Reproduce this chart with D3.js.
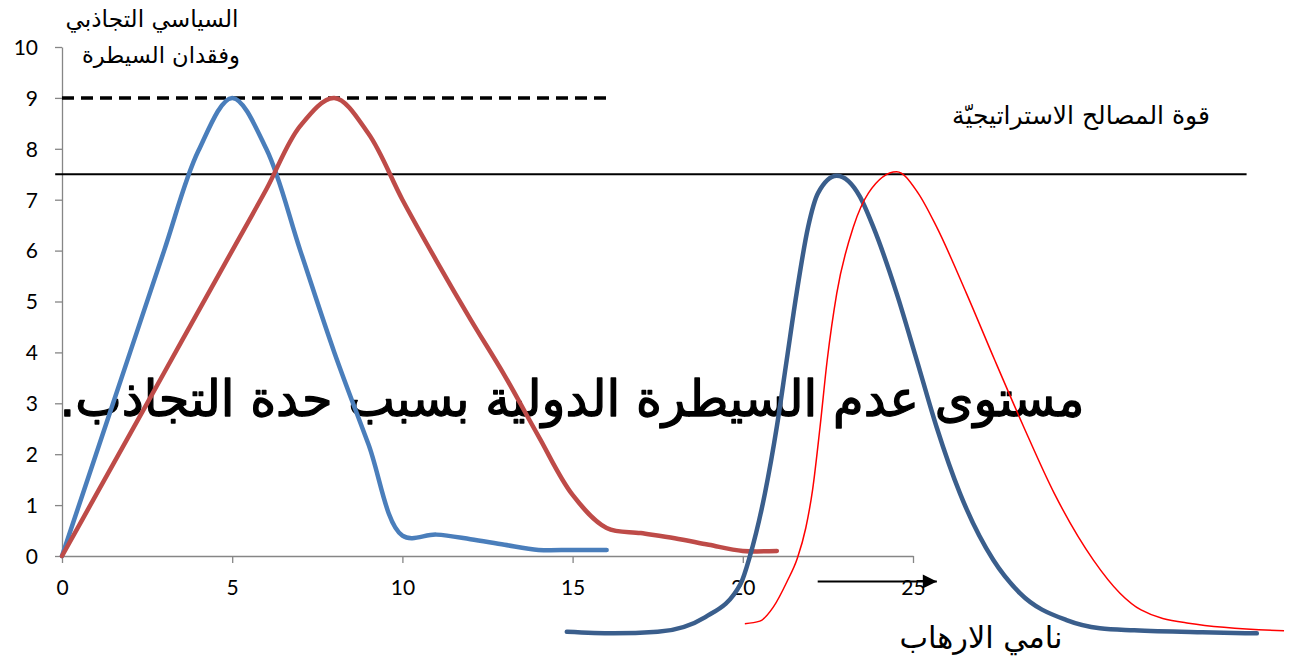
<!DOCTYPE html>
<html><head><meta charset="utf-8">
<script src="https://cdn.jsdelivr.net/npm/d3@7"></script>
<style>html,body{margin:0;padding:0;background:#fff;}svg{display:block;}</style>
</head><body><svg id="c" width="1294" height="666"></svg>
<script>
// ---- data ----
const xTicks = [0, 5, 10, 15, 20, 25];
const yTicks = [0, 1, 2, 3, 4, 5, 6, 7, 8, 9, 10];
const blueX = [0,1,2,3,4,5,6,7,8,9,10,11,12,13,14,15,16];
const blueY = [0,2,4,6,7.95,9,8,6,4,2.2,0.4,0.42,0.33,0.22,0.12,0.12,0.12];
const redX = [0,1,2,3,4,5,6,7,8,9,10,11,12,13,14,15,16,17,18,19,20,21];
const redY = [0,1.2,2.4,3.6,4.8,6,7.2,8.45,9,8.3,7.0,5.8,4.65,3.55,2.35,1.2,0.55,0.45,0.35,0.22,0.1,0.1];
const darkX = [14.83,16.2,17.5,18.9,19.94,20.21,20.65,21.0,21.29,21.58,21.92,22.21,22.76,23.44,23.83,24.52,25.11,25.69,26.38,27.36,28.14,29.51,30.49,31.5,33.5,35.1];
const darkY = [-1.49,-1.52,-1.49,-1.2,-0.54,0,1.23,2.54,3.85,5.16,6.47,7.13,7.47,7.06,6.47,5.16,3.85,2.54,1.23,-0.08,-0.73,-1.26,-1.42,-1.46,-1.5,-1.52];
const thinX = [20.06,20.5,20.9,21.3,21.6,21.85,22.05,22.27,22.48,22.76,23.25,23.69,24.52,25.15,25.69,26.57,27.4,28.25,29.15,30.3,31.08,31.7,33.1,35.9];
const thinY = [-1.33,-1.28,-1.0,-0.5,-0.05,0.55,1.3,2.54,3.85,5.16,6.47,7.13,7.55,7.13,6.47,5.16,3.85,2.54,1.23,-0.08,-0.73,-1.06,-1.32,-1.47];
const strategicLevel = 7.5, strategicFrom = -0.2, strategicTo = 34.8;
const dashLevel = 9, dashFrom = 0, dashTo = 16;
const arrowLevel = -0.5, arrowFrom = 22.2, arrowTo = 25.7;
const labelTop1 = "السياسي التجاذبي";
const labelTop2 = "وفقدان السيطرة";
const labelStrategic = "قوة المصالح الاستراتيجيّة";
const labelBig = "مستوى عدم السيطرة الدولية بسبب حدة التجاذب.";
const labelTerror = "نامي الارهاب";

// ---- drawing ----
const svg = d3.select("#c");
const x = d3.scaleLinear().domain([0, 25]).range([62, 913]);
const y = d3.scaleLinear().domain([0, 10]).range([556, 47]);
const axisColor = "#868686";
const numFont = "Lato, 'Open Sans', sans-serif";
const arFont = "'DejaVu Sans', sans-serif";

const xAxis = svg.append("g").attr("transform", `translate(0,${y(0)})`)
  .call(d3.axisBottom(x).tickValues(xTicks).tickSize(7).tickSizeOuter(0).tickPadding(17));
const yAxis = svg.append("g").attr("transform", `translate(${x(0)},0)`)
  .call(d3.axisLeft(y).tickValues(yTicks).tickSize(7).tickSizeOuter(0).tickPadding(17));
[xAxis, yAxis].forEach(g => {
  g.selectAll("path,line").attr("stroke", axisColor).attr("stroke-width", 1.3);
  g.selectAll("text").attr("fill", "#000").style("font-family", numFont).style("font-size", "21px");
});
yAxis.selectAll("text").attr("dy", "0.35em");
xAxis.selectAll("text").attr("dy", "0.71em");

function fit(t, w) {
  const cur = t.node().getComputedTextLength();
  const fs = parseFloat(t.style("font-size"));
  t.style("font-size", (fs * w / cur) + "px");
}
function arText(str, cx, by, fs, w, sw) {
  const t = svg.append("text").attr("x", cx).attr("y", by).attr("direction", "rtl")
    .attr("text-anchor", "middle").style("font-family", arFont).style("font-size", fs + "px")
    .attr("fill", "#000").text(str);
  if (sw) t.attr("stroke", "#000").attr("stroke-width", sw).attr("stroke-linejoin", "round");
  if (w) fit(t, w);
  return t;
}
arText(labelTop1, 152, 27, 21, 173);
arText(labelTop2, 161, 63, 21, 158);
arText(labelStrategic, 1081, 124, 21, 258);
arText(labelBig, 572, 416, 52, 1025, 1.3);
arText(labelTerror, 981, 648, 22, 163);

const lineCR = d3.line().x(d => x(d[0])).y(d => y(d[1])).curve(d3.curveCatmullRom.alpha(0.5));
const lineMono = d3.line().x(d => x(d[0])).y(d => y(d[1])).curve(d3.curveMonotoneX);
const pts = (xs, ys) => xs.map((v, i) => [v, ys[i]]);

// strategic reference line
svg.append("line").attr("x1", x(strategicFrom)).attr("x2", x(strategicTo))
  .attr("y1", y(strategicLevel)).attr("y2", y(strategicLevel))
  .attr("stroke", "#000").attr("stroke-width", 2.2);
// dashed line
svg.append("line").attr("x1", x(dashFrom)).attr("x2", x(dashTo))
  .attr("y1", y(dashLevel)).attr("y2", y(dashLevel))
  .attr("stroke", "#000").attr("stroke-width", 3.5).attr("stroke-dasharray", "12,7");

svg.append("path").datum(pts(blueX, blueY)).attr("d", lineCR)
  .attr("fill", "none").attr("stroke", "#4a7ebb").attr("stroke-width", 4.5).attr("stroke-linecap", "round");
svg.append("path").datum(pts(redX, redY)).attr("d", lineCR)
  .attr("fill", "none").attr("stroke", "#be4b48").attr("stroke-width", 4.5).attr("stroke-linecap", "round");
svg.append("path").datum(pts(darkX, darkY)).attr("d", lineMono)
  .attr("fill", "none").attr("stroke", "#3a5e8c").attr("stroke-width", 4.5).attr("stroke-linecap", "round");
svg.append("path").datum(pts(thinX, thinY)).attr("d", lineMono)
  .attr("fill", "none").attr("stroke", "#ff0000").attr("stroke-width", 1.5);

// arrow
const defs = svg.append("defs");
defs.append("marker").attr("id", "ah").attr("viewBox", "0 0 10 10").attr("refX", 10).attr("refY", 5)
  .attr("markerWidth", 8).attr("markerHeight", 7).attr("markerUnits", "strokeWidth").attr("orient", "auto")
  .append("path").attr("d", "M0,0 L10,5 L0,10 Z").attr("fill", "#000");
svg.append("line").attr("x1", x(arrowFrom)).attr("x2", x(arrowTo))
  .attr("y1", y(arrowLevel)).attr("y2", y(arrowLevel))
  .attr("stroke", "#000").attr("stroke-width", 2).attr("marker-end", "url(#ah)");
</script></body></html>
